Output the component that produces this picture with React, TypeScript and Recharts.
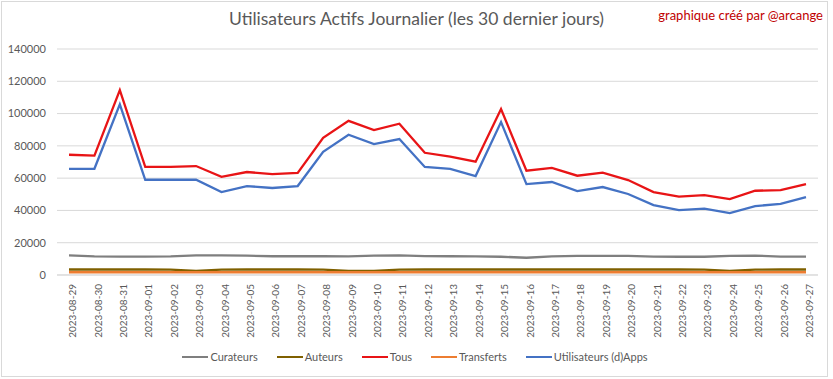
import React from "react";
import { LineChart, Line, XAxis, YAxis, CartesianGrid, Legend } from "recharts";

const dates = [
  "2023-08-29", "2023-08-30", "2023-08-31", "2023-09-01", "2023-09-02", "2023-09-03",
  "2023-09-04", "2023-09-05", "2023-09-06", "2023-09-07", "2023-09-08", "2023-09-09",
  "2023-09-10", "2023-09-11", "2023-09-12", "2023-09-13", "2023-09-14", "2023-09-15",
  "2023-09-16", "2023-09-17", "2023-09-18", "2023-09-19", "2023-09-20", "2023-09-21",
  "2023-09-22", "2023-09-23", "2023-09-24", "2023-09-25", "2023-09-26", "2023-09-27",
];

const curateurs = [
  12100, 11500, 11400, 11400, 11500, 12100, 12200, 12000, 11600, 11600,
  11600, 11500, 12000, 12200, 11700, 11600, 11500, 11300, 10700, 11500,
  11900, 11900, 11800, 11400, 11300, 11300, 11900, 12000, 11400, 11400,
];
const auteurs = [
  3400, 3400, 3400, 3400, 3300, 2500, 3300, 3400, 3400, 3400,
  3300, 2600, 2600, 3300, 3400, 3400, 3400, 3400, 3400, 3400,
  3400, 3400, 3400, 3400, 3400, 3300, 2500, 3300, 3400, 3400,
];
const tous = [
  74500, 74000, 114500, 67000, 67000, 67500, 60800, 63800, 62500, 63200,
  85000, 95500, 89800, 93700, 75700, 73300, 70200, 102800, 64600, 66300,
  61500, 63400, 58800, 51400, 48500, 49500, 47000, 52200, 52600, 56300,
];
const transferts = [
  1700, 1700, 1700, 1700, 1700, 1700, 1700, 1700, 1700, 1700,
  1700, 1700, 1700, 1700, 1700, 1700, 1700, 1700, 1700, 1700,
  1700, 1700, 1700, 1700, 1700, 1700, 1700, 1700, 1700, 1700,
];
const utilisateurs = [
  65800, 65800, 105700, 59000, 59000, 59000, 51400, 55100, 53900, 55100,
  76300, 86900, 81100, 84200, 66900, 65800, 61300, 94700, 56300, 57600,
  52000, 54500, 50200, 43300, 40200, 41100, 38400, 42700, 44000, 48300,
];

const yTicks = [0, 20000, 40000, 60000, 80000, 100000, 120000, 140000];

const series = [
  { key: "curateurs", name: "Curateurs", color: "#7f7f7f" },
  { key: "auteurs", name: "Auteurs", color: "#7f6000" },
  { key: "tous", name: "Tous", color: "#e81416" },
  { key: "transferts", name: "Transferts", color: "#ed7d31" },
  { key: "utilisateurs", name: "Utilisateurs (d)Apps", color: "#4472c4" },
];

const data = dates.map((d, i) => ({
  date: d,
  curateurs: curateurs[i],
  auteurs: auteurs[i],
  tous: tous[i],
  transferts: transferts[i],
  utilisateurs: utilisateurs[i],
}));

const FONT = "Lato, sans-serif";

function LegendRow() {
  return (
    <div style={{ display: "flex", justifyContent: "center", gap: 19, fontFamily: FONT, fontSize: 11, color: "#595959", lineHeight: "14px", paddingLeft: 12 }}>
      {series.map((s) => (
        <div key={s.key} style={{ display: "flex", alignItems: "center" }}>
          <span style={{ display: "inline-block", width: 26, height: 2.5, background: s.color, marginRight: 2 }} />
          {s.name}
        </div>
      ))}
    </div>
  );
}

export default function App() {
  return (
    <div style={{ position: "relative", width: 833, height: 379, background: "#fff", fontFamily: FONT }}>
      <style>{`body{margin:0}`}</style>
      <div style={{ position: "absolute", left: 1, top: 1, width: 825, height: 374, border: "1px solid #d9d9d9" }} />
      <div style={{ position: "absolute", left: 0, width: 833, top: 8, textAlign: "center", fontSize: 17.5, color: "#595959" }}>
        Utilisateurs Actifs Journalier (les 30 dernier jours)
      </div>
      <div style={{ position: "absolute", right: 10, top: 7, fontSize: 13, color: "#c00000" }}>
        graphique créé par @arcange
      </div>
      <LineChart width={833} height={379} data={data} margin={{ top: 49, right: 15, bottom: 15, left: 0 }}>
        <CartesianGrid stroke="#d9d9d9" vertical={false} />
        <XAxis
          dataKey="date"
          interval={0}
          padding={{ left: 12, right: 12 }}
          axisLine={{ stroke: "#d9d9d9" }}
          tickLine={false}
          tickSize={0}
          tickMargin={9}
          angle={-90}
          textAnchor="end"
          height={75}
          tick={{ fill: "#595959", fontSize: 10, fontFamily: FONT }}
        />
        <YAxis
          domain={[0, 140000]}
          ticks={yTicks}
          width={57}
          axisLine={false}
          tickLine={false}
          tickSize={0}
          tickMargin={11}
          tick={{ fill: "#595959", fontSize: 11, fontFamily: FONT }}
        />
        <Legend verticalAlign="bottom" content={() => <LegendRow />} />
        {series.map((s) => (
          <Line
            key={s.key}
            type="linear"
            dataKey={s.key}
            name={s.name}
            stroke={s.color}
            strokeWidth={2.3}
            dot={false}
            isAnimationActive={false}
          />
        ))}
      </LineChart>
    </div>
  );
}
